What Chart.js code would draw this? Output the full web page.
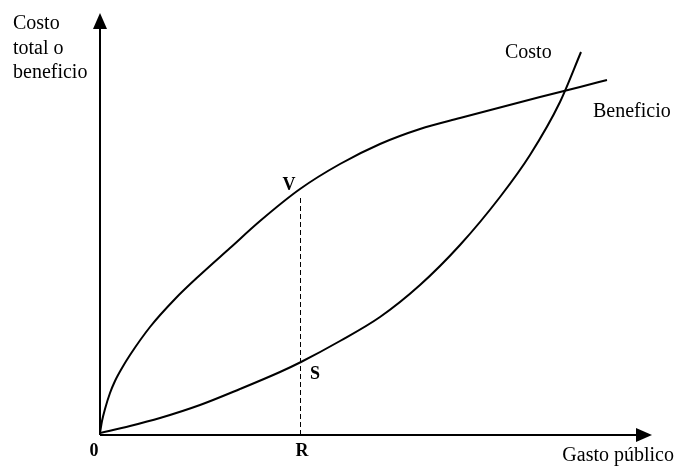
<!DOCTYPE html>
<html>
<head>
<meta charset="utf-8">
<script src="https://cdn.jsdelivr.net/npm/chart.js@4/dist/chart.umd.min.js"></script>
<style>
  html, body { margin: 0; padding: 0; background: #fff; }
  #wrap { width: 677px; height: 475px; }
</style>
</head>
<body>
<div id="wrap"><canvas id="grafico"></canvas></div>
<script>
// --- Datos ---
// Gasto público (eje x) y valores de cada curva
const gastoBeneficio = [0, 2, 5, 10, 15, 22, 30, 50, 75, 100, 130, 160, 200, 240, 280, 320, 360, 400, 440, 480, 507];
const beneficio      = [2, 14, 26, 42, 54, 67, 80, 108, 136, 160, 187, 214, 246, 271, 291, 306, 317, 327.5, 338, 348, 355];

const gastoCosto = [0, 30, 60, 100, 140, 180, 201, 240, 280, 320, 360, 400, 430, 460, 481];
const costo      = [2, 9, 17, 30, 46, 63, 73, 94, 118, 150, 190, 238, 280, 333, 383];

// Línea punteada en R (de 0 hasta V)
const gastoR = [200.5, 200.5];
const nivelR = [0, 238];

// Etiquetas de puntos: texto, x, y
const etiquetasTexto = ["V", "S", "R", "0"];
const etiquetasX = [189, 215, 202, -6];
const etiquetasY = [250, 61, -16, -16];

// Nombres de las curvas
const nombresCurvas = ["Costo", "Beneficio"];
const nombresX = [405, 493];
const nombresY = [377, 318];

const ejeY = ["Costo", "total o", "beneficio"];
const ejeX = "Gasto público";

function aPuntos(xs, ys) {
    return xs.map((x, i) => ({ x: x, y: ys[i] }));
}

// --- Plugin para ejes con flechas y textos ---
const ejesYTextos = {
    id: "ejesYTextos",
    afterDraw(chart) {
        const ctx = chart.ctx;
        const { left, right, top, bottom } = chart.chartArea;
        const sx = chart.scales.x;
        const sy = chart.scales.y;

        ctx.save();
        ctx.strokeStyle = "#000";
        ctx.fillStyle = "#000";
        ctx.lineWidth = 2;

        // eje y
        ctx.beginPath();
        ctx.moveTo(left, bottom);
        ctx.lineTo(left, top + 14);
        ctx.stroke();
        ctx.beginPath();
        ctx.moveTo(left, top);
        ctx.lineTo(left - 7, top + 16);
        ctx.lineTo(left + 7, top + 16);
        ctx.closePath();
        ctx.fill();

        // eje x
        ctx.beginPath();
        ctx.moveTo(left, bottom);
        ctx.lineTo(right - 14, bottom);
        ctx.stroke();
        ctx.beginPath();
        ctx.moveTo(right, bottom);
        ctx.lineTo(right - 16, bottom - 7);
        ctx.lineTo(right - 16, bottom + 7);
        ctx.closePath();
        ctx.fill();

        // títulos de ejes
        ctx.font = "20px 'Liberation Serif'";
        ctx.textAlign = "left";
        ctx.textBaseline = "alphabetic";
        ejeY.forEach((t, i) => ctx.fillText(t, 13, 29 + i * 24.5));
        ctx.textAlign = "right";
        ctx.fillText(ejeX, 674, 461);

        // nombres de curvas
        ctx.textAlign = "left";
        nombresCurvas.forEach((t, i) => {
            ctx.fillText(t, sx.getPixelForValue(nombresX[i]), sy.getPixelForValue(nombresY[i]));
        });

        // etiquetas de puntos
        ctx.font = "bold 18px 'Liberation Serif'";
        ctx.textAlign = "center";
        ctx.textBaseline = "middle";
        etiquetasTexto.forEach((t, i) => {
            ctx.fillText(t, sx.getPixelForValue(etiquetasX[i]), sy.getPixelForValue(etiquetasY[i]));
        });

        ctx.restore();
    }
};

new Chart(document.getElementById("grafico"), {
    type: "line",
    data: {
        datasets: [
            {
                label: "Beneficio",
                data: aPuntos(gastoBeneficio, beneficio),
                borderColor: "#000",
                borderWidth: 2,
                pointRadius: 0,
                cubicInterpolationMode: "monotone",
                fill: false
            },
            {
                label: "Costo",
                data: aPuntos(gastoCosto, costo),
                borderColor: "#000",
                borderWidth: 2,
                pointRadius: 0,
                cubicInterpolationMode: "monotone",
                fill: false
            },
            {
                label: "R",
                data: aPuntos(gastoR, nivelR),
                borderColor: "#000",
                borderWidth: 1,
                borderDash: [5, 3],
                pointRadius: 0,
                fill: false
            }
        ]
    },
    options: {
        responsive: true,
        maintainAspectRatio: false,
        animation: false,
        layout: { padding: { left: 100, right: 25, top: 13, bottom: 40 } },
        plugins: {
            legend: { display: false },
            tooltip: { enabled: false }
        },
        scales: {
            x: { type: "linear", min: 0, max: 552, display: false },
            y: { type: "linear", min: 0, max: 422, display: false }
        }
    },
    plugins: [ejesYTextos]
});
</script>
</body>
</html>
